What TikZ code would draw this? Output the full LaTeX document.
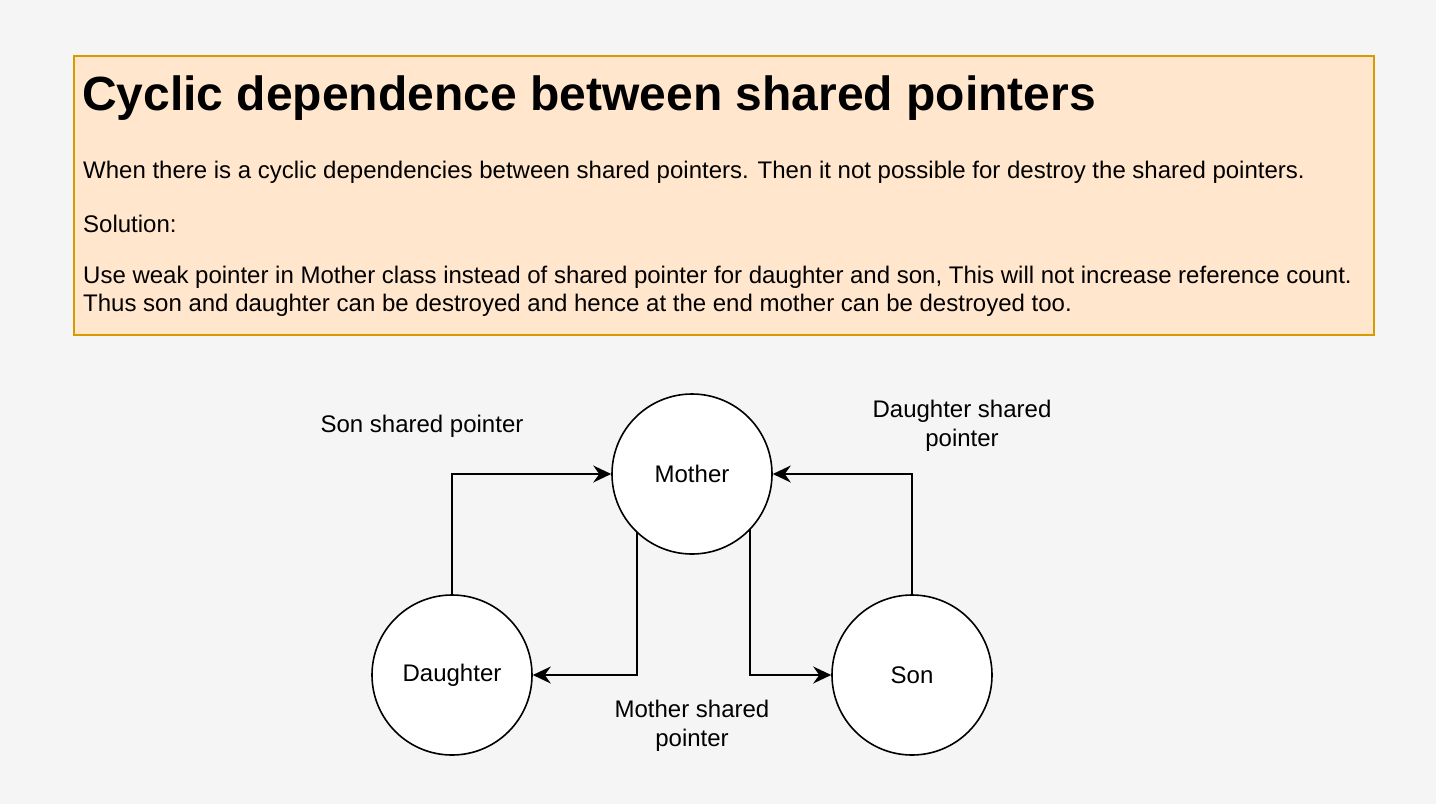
\documentclass[tikz,border=0pt]{standalone}
\usepackage{fontspec}
\setmainfont{Liberation Sans}
\usetikzlibrary{arrows.meta}
\definecolor{bg}{HTML}{F5F5F5}
\definecolor{notefill}{HTML}{FFE6CC}
\definecolor{notedraw}{HTML}{D79B00}
\tikzset{
  circ/.style={circle, draw=black, fill=white, line width=1.6pt, minimum size=160pt, inner sep=0pt, font=\fontsize{24}{28}\selectfont},
  conn/.style={draw=black, line width=1.6pt, -{Stealth[length=18pt,width=17pt,inset=6pt]}},
  lbl/.style={align=center, font=\fontsize{24}{29}\selectfont, inner sep=0pt},
  body/.style={anchor=west, inner sep=0pt, font=\fontsize{24}{28}\selectfont}
}
\begin{document}
\begin{tikzpicture}[x=1pt,y=-1pt]
\fill[bg] (0,0) rectangle (1436,804);
\useasboundingbox (0,0) rectangle (1436,804);
\node[draw=notedraw, fill=notefill, line width=1.6pt, minimum width=1300pt, minimum height=279pt, anchor=north west, inner sep=0pt] (note) at (73,55) {};
\node[anchor=west, inner sep=0pt, font=\fontsize{48}{52}\selectfont\bfseries] (title) at (82,98) {Cyclic dependence between shared pointers};
\node[body] (t1) at (83,172) {When there is a cyclic dependencies between shared pointers. Then it not possible for destroy the shared pointers.};
\node[body] (t2) at (83,224) {Solution:};
\node[body] (t3) at (83,277) {Use weak pointer in Mother class instead of shared pointer for daughter and son, This will not increase reference count.};
\node[body] (t4) at (83,305) {Thus son and daughter can be destroyed and hence at the end mother can be destroyed too.};

\node[circ] (mother) at (692,474) {Mother};
\node[circ] (daughter) at (452,675) {Daughter};
\node[circ] (son) at (912,675) {Son};

\path[conn] (daughter.north) |- (mother.west);
\path[conn] (son.north) |- (mother.east);
\coordinate (ml) at (637,532);
\coordinate (mr) at (750,529);
\path[conn] (ml) |- (daughter.east);
\path[conn] (mr) |- (son.west);

\node[lbl] (l1) at (422,426) {Son shared pointer};
\node[lbl] (l2) at (962,426) {Daughter shared\\pointer};
\node[lbl] (l3) at (692,726) {Mother shared\\pointer};
\end{tikzpicture}
\end{document}
